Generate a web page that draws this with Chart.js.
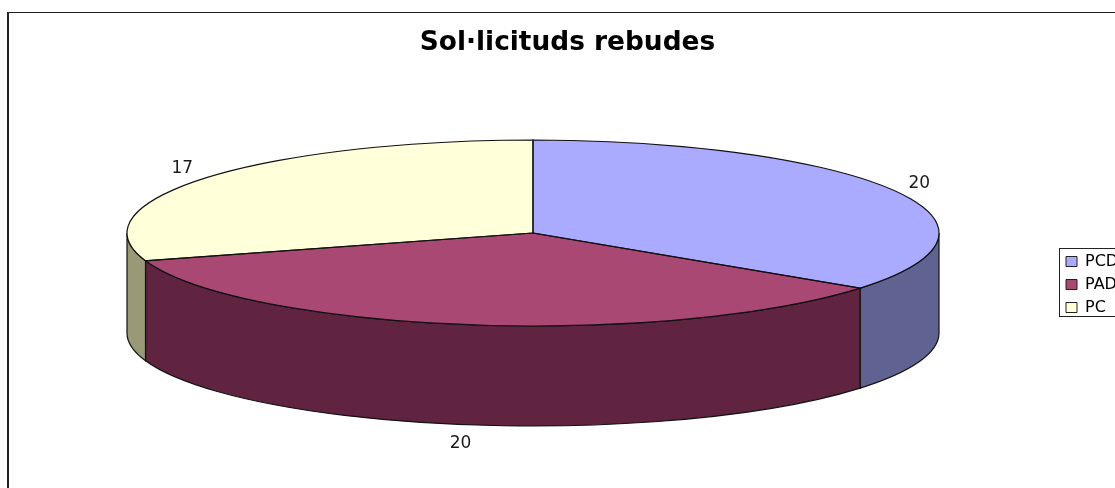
<!DOCTYPE html>
<html><head><meta charset="utf-8">
<style>html,body{margin:0;padding:0;background:#fff;width:1115px;height:488px;overflow:hidden}canvas{display:block}</style>
<script src="https://cdn.jsdelivr.net/npm/chart.js@4"></script></head>
<body><canvas id="c" width="1135" height="569" style="width:1135px;height:569px"></canvas>
<script>
const categories = ['PCD', 'PAD', 'PC'];
const values = [20, 20, 17];
const topColors = ['#AAAAFF', '#AA4874', '#FFFFD9'];
const wallColors = ['#606392', '#602441', '#999977'];
const titleText = 'Sol·licituds rebudes';
const FONT = '"DejaVu Sans", Verdana, sans-serif';
const pie3d = { cx: 533, cy: 233, rx: 406, ry: 93, depth: 100 };
const outline = '#111';

const plugin3d = {
  id: 'pie3d',
  afterLayout(chart) {
    chart.legend.left = 1059;
  },
  beforeDraw(chart) {
    const c = chart.ctx;
    c.save();
    c.fillStyle = '#fff';
    c.fillRect(0, 0, chart.width, chart.height);
    c.fillStyle = '#222';
    c.fillRect(7, 12, 2, chart.height);
    c.fillRect(7, 12, chart.width, 1);
    c.restore();
  },
  beforeDatasetsDraw(chart) {
    const c = chart.ctx, p = pie3d;
    const arcs = chart.getDatasetMeta(0).data;
    c.save();
    c.lineWidth = 1.2;
    c.strokeStyle = outline;
    arcs.forEach((a, i) => {
      const a0 = Math.max(a.startAngle, 0), a1 = Math.min(a.endAngle, Math.PI);
      if (a1 <= a0) return;
      c.beginPath();
      c.ellipse(p.cx, p.cy, p.rx, p.ry, 0, a0, a1);
      c.ellipse(p.cx, p.cy + p.depth, p.rx, p.ry, 0, a1, a0, true);
      c.closePath();
      c.fillStyle = wallColors[i];
      c.fill();
      c.stroke();
    });
    c.restore();
    const a = arcs[0];
    c.save();
    c.translate(p.cx, p.cy);
    c.scale(p.rx / a.outerRadius, p.ry / a.outerRadius);
    c.translate(-a.x, -a.y);
  },
  afterDatasetsDraw(chart) {
    const c = chart.ctx, p = pie3d;
    c.restore();
    const arcs = chart.getDatasetMeta(0).data;
    c.save();
    c.lineWidth = 1.2;
    c.strokeStyle = outline;
    arcs.forEach(a => {
      c.beginPath();
      c.moveTo(p.cx, p.cy);
      c.ellipse(p.cx, p.cy, p.rx, p.ry, 0, a.startAngle, a.endAngle);
      c.closePath();
      c.stroke();
    });
    c.fillStyle = '#1a1a1a';
    c.font = '17px ' + FONT;
    c.textAlign = 'center';
    c.textBaseline = 'middle';
    arcs.forEach((a, i) => {
      const m = (a.startAngle + a.endAngle) / 2;
      const s = Math.sin(m), k = Math.cos(m);
      const front = s > 0.7 ? p.depth : 0;
      c.fillText(String(values[i]), p.cx + p.rx * k + 28 * k - 1, p.cy + p.ry * s + 18 * s + front + 1);
    });
    c.restore();
  },
  afterDraw(chart) {
    const c = chart.ctx;
    c.save();
    c.strokeStyle = '#222';
    c.lineWidth = 1;
    c.strokeRect(1059.5, 248.5, 120, 68);
    c.restore();
  }
};

new Chart(document.getElementById('c'), {
  type: 'pie',
  plugins: [plugin3d],
  data: {
    labels: categories,
    datasets: [{ data: values, backgroundColor: topColors, borderWidth: 0, clip: false }]
  },
  options: {
    responsive: false,
    animation: false,
    plugins: {
      tooltip: { enabled: false },
      title: {
        display: true,
        text: titleText,
        color: '#000',
        font: { family: FONT, size: 26.4, weight: 'bold' },
        padding: { top: 27, bottom: 10 }
      },
      legend: {
        position: 'right',
        labels: {
          boxWidth: 11, boxHeight: 10, padding: 7,
          color: '#000',
          font: { family: FONT, size: 16 },
          generateLabels(chart) {
            return Chart.overrides.pie.plugins.legend.labels.generateLabels(chart)
              .map(x => Object.assign(x, { strokeStyle: '#222', lineWidth: 1 }));
          }
        }
      }
    }
  }
});
</script></body></html>
